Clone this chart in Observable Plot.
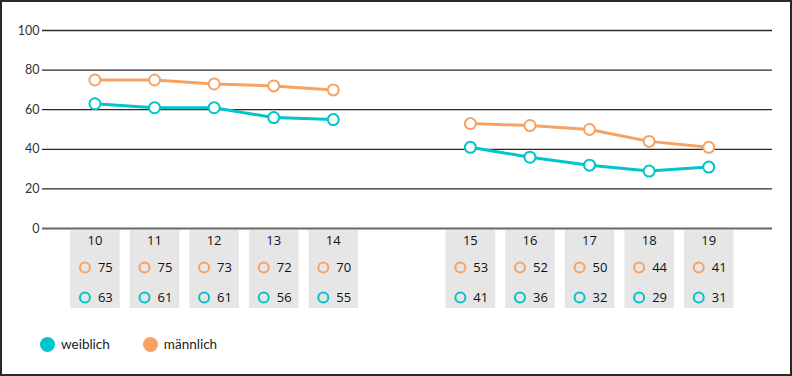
<!DOCTYPE html>
<html>
<head>
<meta charset="utf-8">
<script src="https://cdn.jsdelivr.net/npm/d3@7"></script>
<script src="https://cdn.jsdelivr.net/npm/@observablehq/plot@0.6"></script>
<style>
  html, body { margin: 0; padding: 0; background: #fff; }
  #wrap { position: relative; width: 792px; height: 376px; overflow: hidden; background: #fff; }
  #wrap svg { display: block; }
  #table { margin-top: -10px; }
  #frame { position: absolute; left: 0; top: 0; width: 792px; height: 376px; box-sizing: border-box; border: 2px solid #2a2a2a; pointer-events: none; }
  #legend { position: absolute; top: 336px; left: 40px; display: flex; align-items: center; font-family: Lato, "Open Sans", sans-serif; font-size: 13.5px; color: #222; }
  #legend .item { display: flex; align-items: center; margin-right: 33px; }
  #legend .sw { width: 15px; height: 15px; border-radius: 50%; margin-right: 6px; }
</style>
</head>
<body>
<div id="wrap"><div id="chart"></div><div id="table"></div><div id="legend"></div><div id="frame"></div></div>
<script>
const ages = [10, 11, 12, 13, 14, 15, 16, 17, 18, 19];
const segment = [1, 1, 1, 1, 1, 2, 2, 2, 2, 2];
const maennlich = [75, 75, 73, 72, 70, 53, 52, 50, 44, 41];
const weiblich = [63, 61, 61, 56, 55, 41, 36, 32, 29, 31];
const yTicks = [0, 20, 40, 60, 80, 100];
const seriesNames = ["weiblich", "männlich"];
const teal = "#00C5CA";
const orange = "#F8A262";

const rows = ages.map((a, i) => ({age: a, seg: segment[i], m: maennlich[i], w: weiblich[i]}));
const long = rows.flatMap(d => [
  {age: d.age, seg: d.seg, sex: "weiblich", value: d.w},
  {age: d.age, seg: d.seg, sex: "männlich", value: d.m}
]);

const xScale = {
  type: "linear",
  domain: [9.12, 21.37],
  transform: d => d >= 15 ? d + 1.3 : d,
  axis: null
};

const chart = Plot.plot({
  width: 792, height: 240,
  marginTop: 30, marginBottom: 12, marginLeft: 42, marginRight: 20,
  x: xScale,
  y: {domain: [0, 100], ticks: yTicks, tickSize: 0, tickPadding: 3, label: null},
  color: {domain: seriesNames, range: [teal, orange]},
  style: {fontFamily: "Lato, 'Open Sans', sans-serif", fontSize: "12.5px", color: "#333", background: "transparent"},
  marks: [
    Plot.ruleY(yTicks.filter(t => t > 0), {stroke: "#2a2a2a", strokeWidth: 1.3}),
    Plot.ruleY([0], {stroke: "#666", strokeWidth: 2}),
    Plot.line(long, {x: "age", y: "value", z: d => d.sex + d.seg, stroke: "sex", strokeWidth: 3}),
    Plot.dot(long, {x: "age", y: "value", stroke: "sex", fill: "white", r: 5.5, strokeWidth: 2})
  ]
});
document.getElementById("chart").append(chart);

const table = Plot.plot({
  width: 792, height: 78,
  marginTop: 0, marginBottom: 0, marginLeft: 42, marginRight: 20,
  x: xScale,
  style: {fontFamily: "'Open Sans', sans-serif", fontSize: "13px", color: "#111", background: "transparent"},
  marks: [
    Plot.ruleX(rows, {x: "age", stroke: "#e6e6e6", strokeWidth: 49.5}),
    Plot.text(rows, {x: "age", text: d => String(d.age), frameAnchor: "top", lineAnchor: "middle", dy: 10, fill: "#111"}),
    Plot.dot(rows, {x: "age", frameAnchor: "top", dy: 37, dx: -10, r: 5, stroke: orange, strokeWidth: 2, fill: "none"}),
    Plot.text(rows, {x: "age", text: d => String(d.m), frameAnchor: "top", lineAnchor: "middle", dy: 37, dx: 3, textAnchor: "start", fill: "#111"}),
    Plot.dot(rows, {x: "age", frameAnchor: "top", dy: 67, dx: -10, r: 5, stroke: teal, strokeWidth: 2, fill: "none"}),
    Plot.text(rows, {x: "age", text: d => String(d.w), frameAnchor: "top", lineAnchor: "middle", dy: 67, dx: 3, textAnchor: "start", fill: "#111"})
  ]
});
document.getElementById("table").append(table);

const legend = document.getElementById("legend");
[[seriesNames[0], teal], [seriesNames[1], orange]].forEach(([name, col]) => {
  const item = document.createElement("div");
  item.className = "item";
  const sw = document.createElement("span");
  sw.className = "sw";
  sw.style.background = col;
  const label = document.createElement("span");
  label.textContent = name;
  item.append(sw, label);
  legend.append(item);
});
</script>
</body>
</html>
